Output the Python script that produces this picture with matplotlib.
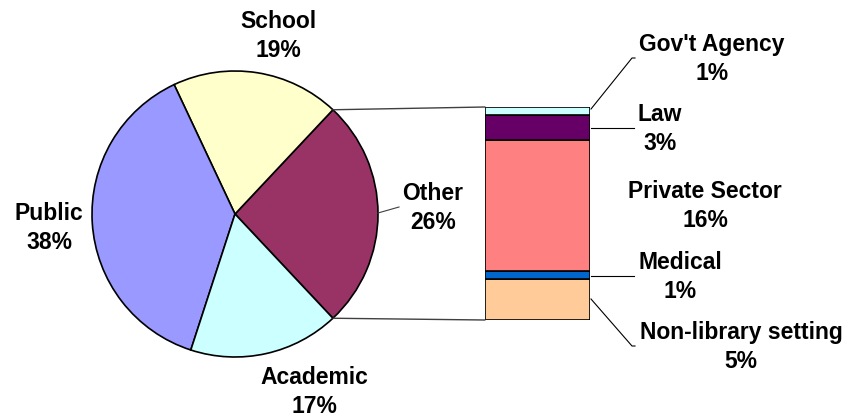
import numpy as np
import matplotlib.pyplot as plt
from matplotlib.patches import ConnectionPatch

plt.rcParams['font.family'] = ['Liberation Sans', 'DejaVu Sans']

# main pie (counter-clockwise from the "Other" wedge)
pie_labels = ['Other', 'School', 'Public', 'Academic']
pie_values = [26, 19, 38, 17]
pie_colors = ['#993366', '#FFFFCC', '#9999FF', '#CCFFFF']

# breakdown of "Other", bottom to top
bar_labels = ['Non-library setting', 'Medical', 'Private Sector', 'Law', "Gov't Agency"]
bar_values = [5, 1, 16, 3, 1]
bar_colors = ['#FFCC99', '#0066CC', '#FF8080', '#660066', '#CCFFFF']

W, H = 850, 418
fig = plt.figure(figsize=(W / 100, H / 100), dpi=100)


def box(x0, y0, x1, y1):
    # pixel box (image coords, y down) -> figure fraction rect
    return [x0 / W, 1 - y1 / H, (x1 - x0) / W, (y1 - y0) / H]


ax_pie = fig.add_axes(box(92, 71, 378, 357))
other_angle = pie_values[0] / sum(pie_values) * 360
start = -other_angle / 2
ax_pie.pie(pie_values, colors=pie_colors, startangle=start, counterclock=True,
           radius=1, wedgeprops=dict(edgecolor='black', linewidth=1.2))
ax_pie.set_xlim(-1, 1)
ax_pie.set_ylim(-1, 1)
ax_pie.set_aspect('equal')
ax_pie.axis('off')

ax_bar = fig.add_axes(box(485, 107, 590, 320))
bottom = 0
for v, c in zip(bar_values, bar_colors):
    ax_bar.bar(0.5, v, width=1, bottom=bottom, color=c, edgecolor='black', linewidth=1.2)
    bottom += v
ax_bar.set_xlim(0, 1)
ax_bar.set_ylim(0, sum(bar_values))
ax_bar.axis('off')

# lines joining the "Other" wedge to the bar
total = sum(bar_values)
for ang, yb in [(start + other_angle, total), (start, 0)]:
    t = np.deg2rad(ang)
    con = ConnectionPatch(xyA=(np.cos(t), np.sin(t)), coordsA=ax_pie.transData,
                          xyB=(0, yb), coordsB=ax_bar.transData,
                          color='#404040', linewidth=1)
    fig.add_artist(con)

# overlay for labels, pixel coords
ov = fig.add_axes([0, 0, 1, 1], facecolor='none')
ov.set_xlim(0, W)
ov.set_ylim(H, 0)
ov.axis('off')

txt = dict(fontsize=16.5, fontweight='bold', ha='center', va='center', linespacing=1.38)
pie_pos = [(433, 208), (278, 36), (49, 228), (314, 392)]
for lab, v, (x, y) in zip(pie_labels, pie_values, pie_pos):
    ov.text(x, y, f'{lab}\n{v}%', **txt)
ov.plot([378, 399], [213, 207], color='#404040', lw=0.8)

bar_pos = [(741, 347), (680, 277), (705, 206), (660, 129), (712, 59)]
for lab, v, (x, y) in zip(bar_labels, bar_values, bar_pos):
    ov.text(x, y, f'{lab}\n{v}%', **txt)

leaders = [
    ([591, 632, 635], [299, 346, 346]),
    ([591, 634], [276, 276]),
    ([591, 634], [128, 128]),
    ([591, 632, 635], [109, 58, 58]),
]
for xs, ys in leaders:
    ov.plot(xs, ys, color='black', lw=0.8)

fig.savefig('out.png', dpi=100)
